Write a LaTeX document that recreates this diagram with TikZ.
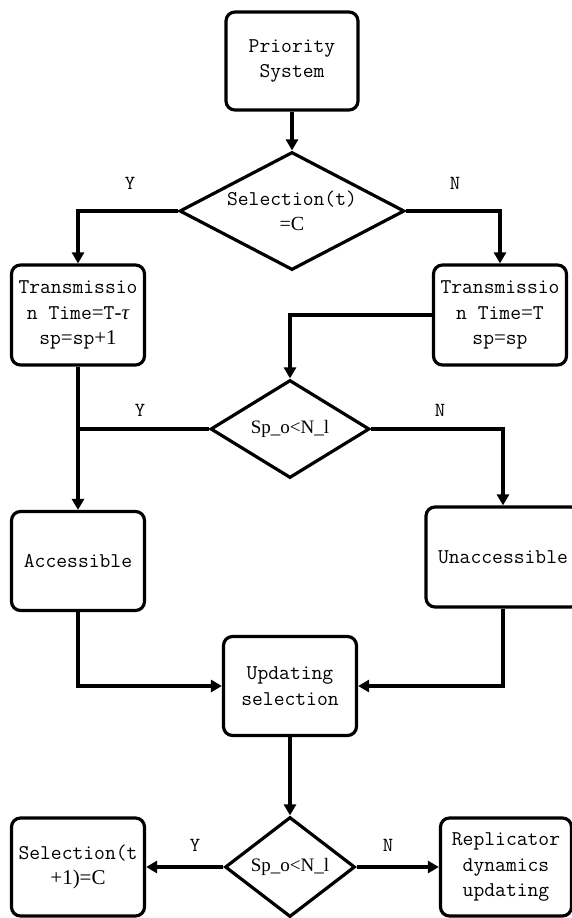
\documentclass[tikz,border=0pt]{standalone}
\usepackage{fontspec}
\newfontfamily\serif{Liberation Serif}
\usetikzlibrary{shapes.geometric,arrows.meta}
\begin{document}
\begin{tikzpicture}[x=1pt,y=-1pt,
  box/.style={draw,line width=3.2pt,rounded corners=9pt,align=center,inner sep=0pt,
    font=\ttfamily\fontsize{21}{25.5}\selectfont},
  dia/.style={draw,diamond,line width=3.2pt,inner sep=0pt},
  dtxt/.style={align=center,inner sep=0pt},
  lab/.style={font=\ttfamily\fontsize{20}{22}\selectfont,inner sep=0pt},
  conn/.style={line width=3.2pt},
  arr/.style={conn,-{Triangle[length=11pt,width=12pt]}}]
\useasboundingbox (0,0) rectangle (572,918);
% nodes
\node[box,minimum width=132pt,minimum height=98pt] (ps) at (292,61) {Priority\\System};
\node[dia,minimum width=225pt,minimum height=118pt] (d1) at (292,211) {};
\node[dtxt,font=\ttfamily\fontsize{21}{25.5}\selectfont] at (d1) {Selection(t)\\{\serif\fontsize{20}{25}\selectfont =C}};
\node[box,minimum width=133pt,minimum height=100pt] (lb) at (78,315) {Transmissio\\n Time{\serif =}T{\serif -\itshape τ}\\sp{\serif =}sp{\serif +1}};
\node[box,minimum width=133pt,minimum height=100pt] (rb) at (500,315) {Transmissio\\n Time{\serif =}T\\sp{\serif =}sp};
\node[dia,minimum width=159pt,minimum height=98pt] (d2) at (290,429) {};
\node[dtxt,font=\serif\fontsize{19}{22}\selectfont] at (d2) {Sp\_o<N\_l};
\node[box,minimum width=133pt,minimum height=99pt] (acc) at (78,561) {Accessible};
\node[box,minimum width=154pt,minimum height=100pt] (un) at (503,557) {Unaccessible};
\node[box,minimum width=133pt,minimum height=99pt] (up) at (290,686) {Updating\\selection};
\node[dia,minimum width=130pt,minimum height=100pt] (d3) at (290,867) {};
\node[dtxt,font=\serif\fontsize{19}{22}\selectfont] at (d3) {Sp\_o<N\_l};
\node[box,minimum width=133pt,minimum height=98pt] (sel) at (78,867) {Selection(t\\{\serif +1)=C}};
\node[box,minimum width=131pt,minimum height=98pt] (rep) at (506,867) {Replicator\\dynamics\\updating};
% labels
\node[lab] (y1) at (130,183) {Y};
\node[lab] (n1) at (455,183) {N};
\node[lab] (y2) at (140,410) {Y};
\node[lab] (n2) at (440,410) {N};
\node[lab] (y3) at (195,845) {Y};
\node[lab] (n3) at (388,845) {N};
% connectors
\draw[arr] (ps.south) -- (d1.north);
\draw[arr] (d1.west) -| (lb.north);
\draw[arr] (d1.east) -| (rb.north);
\draw[arr] (rb.west) -| (d2.north);
\draw[arr] (lb.south) -- (acc.north);
\coordinate (j2) at (lb.south |- d2.west);
\draw[conn] (d2.west) -- (j2);
\draw[arr] (d2.east) -| (un.north);
\draw[arr] (acc.south) |- (up.west);
\draw[arr] (un.south) |- (up.east);
\draw[arr] (up.south) -- (d3.north);
\draw[arr] (d3.west) -- (sel.east);
\draw[arr] (d3.east) -- (rep.west);
\end{tikzpicture}
\end{document}
